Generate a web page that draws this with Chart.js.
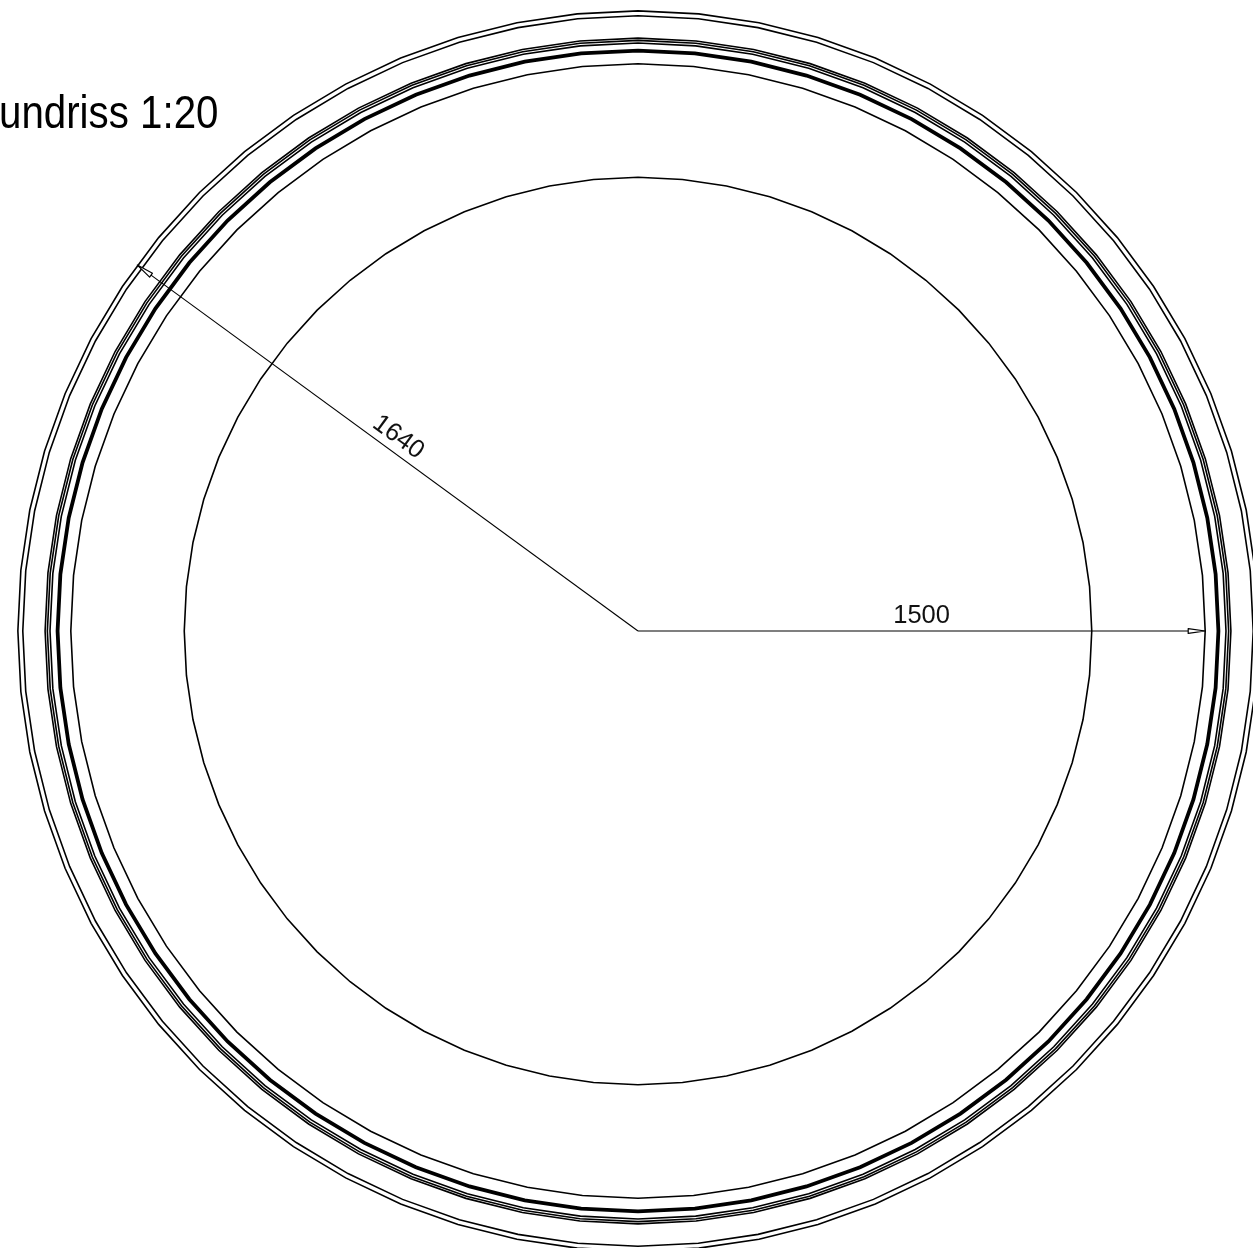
<!DOCTYPE html>
<html>
<head>
<meta charset="utf-8">
<script src="https://cdn.jsdelivr.net/npm/chart.js@4"></script>
<style>
html,body{margin:0;padding:0;background:#fff;width:1253px;height:1248px;overflow:hidden}
#c{position:absolute;left:-12px;top:-19px}
#t{position:absolute;left:-1px;top:84px;font:47px "Liberation Sans",sans-serif;color:#000;white-space:nowrap;transform:scaleX(0.857);transform-origin:left top}
</style>
</head>
<body>
<canvas id="c" width="1300" height="1300"></canvas>
<div id="t">undriss 1:20</div>
<script>
// Plan radii in mm
const thinRings = [1200, 1500, 1555, 1562, 1568, 1627, 1640];
const thickRings = [1535];
// Dimension lines: spoke end value and angular position on the category axis
const dimValues = [1500, 1640];
const dimSlots = [112, 381];
const dimLabels = ['1500', '1640'];
const slotsPerFacet = 7;
const facetCount = 64;

const slots = Array.from({length: facetCount * slotsPerFacet}, (_, i) => String(i));
const ring = r => slots.map((_, i) => i % slotsPerFacet === 0 ? r : null);
const spoke = (slot, r) => slots.map((_, i) => i === slot ? r : (i === slot - 1 ? 0 : null));

const ringSet = (r, w) => ({data: ring(r), borderColor: '#000', borderWidth: w, spanGaps: true,
  fill: false, pointRadius: 0, tension: 0, borderJoinStyle: 'miter'});
const spokeSet = (s, r) => ({data: spoke(s, r), borderColor: '#000', borderWidth: 1.1, spanGaps: false,
  fill: false, pointRadius: 0, tension: 0});

const dimDecor = {
  id: 'dimDecor',
  afterDatasetsDraw(chart) {
    const s = chart.scales.r, ctx = chart.ctx;
    dimValues.forEach((v, i) => {
      const tip = s.getPointPositionForValue(dimSlots[i], v);
      const a = Math.atan2(tip.y - s.yCenter, tip.x - s.xCenter);
      ctx.save();
      ctx.translate(tip.x, tip.y);
      ctx.rotate(a);
      ctx.beginPath();
      ctx.moveTo(0, 0); ctx.lineTo(-17, -2.4); ctx.lineTo(-17, 2.4); ctx.closePath();
      ctx.fillStyle = '#fff'; ctx.fill();
      ctx.strokeStyle = '#000'; ctx.lineWidth = 1.2; ctx.lineJoin = 'round'; ctx.stroke();
      ctx.restore();
      // label sits above the middle of its spoke
      const m = s.getPointPositionForValue(dimSlots[i], v * (i === 0 ? 0.5 : 0.4965));
      const flip = Math.abs(a) > Math.PI / 2 ? a + Math.PI : a;
      ctx.save();
      ctx.translate(m.x, m.y);
      ctx.rotate(flip);
      ctx.font = '25.5px "Liberation Sans", sans-serif';
      ctx.fillStyle = '#111';
      ctx.textAlign = 'center';
      ctx.textBaseline = 'alphabetic';
      ctx.fillText(dimLabels[i], 0, -8);
      ctx.restore();
    });
  }
};

new Chart(document.getElementById('c'), {
  type: 'radar',
  data: {
    labels: slots,
    datasets: [
      ...thinRings.map(r => ringSet(r, 1.6)),
      ...thickRings.map(r => ringSet(r, 3.8)),
      ...dimValues.map((v, i) => spokeSet(dimSlots[i], v))
    ]
  },
  options: {
    responsive: false,
    animation: false,
    devicePixelRatio: 1,
    plugins: {legend: {display: false}, tooltip: {enabled: false}},
    scales: {
      r: {
        display: false,
        min: 0,
        max: 1719,
        pointLabels: {display: false},
        ticks: {display: false},
        grid: {display: false},
        angleLines: {display: false}
      }
    }
  },
  plugins: [dimDecor]
});
</script>
</body>
</html>
